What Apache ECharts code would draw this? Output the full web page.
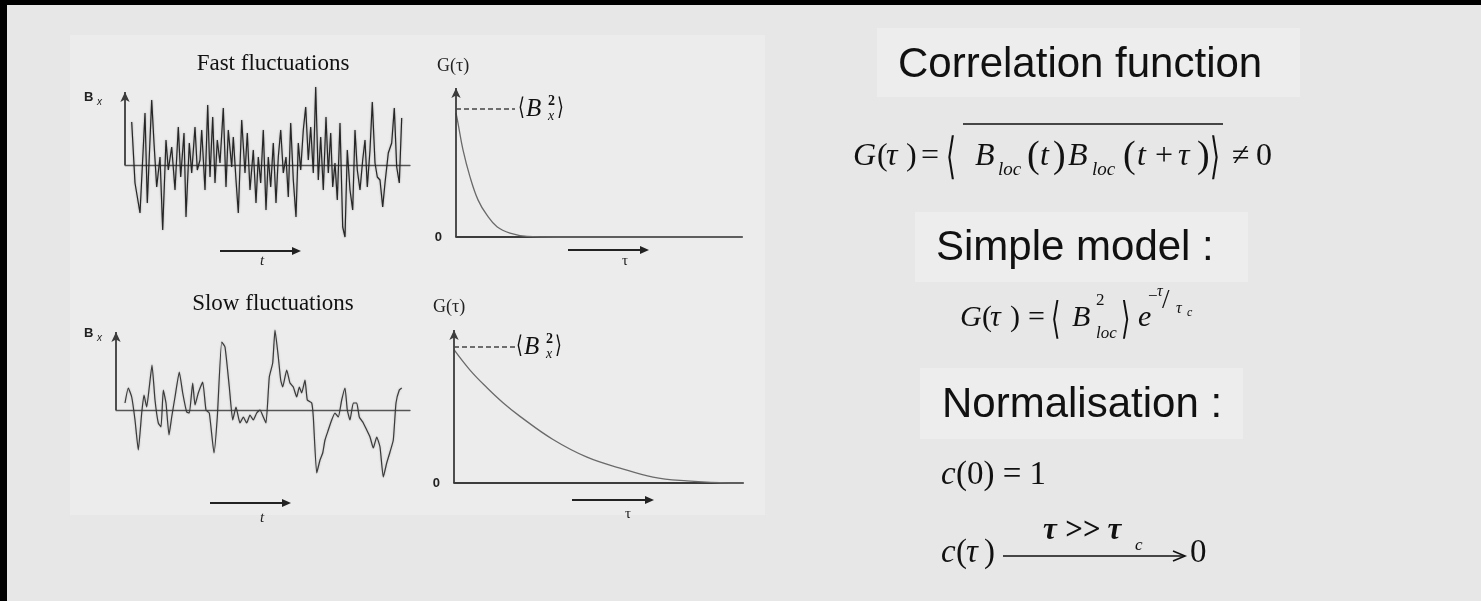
<!DOCTYPE html>
<html>
<head>
<meta charset="utf-8">
<script src="https://cdn.jsdelivr.net/npm/echarts@6/dist/echarts.min.js"></script>
<style>
html,body{margin:0;padding:0;background:#000;}
#c{width:1481px;height:601px;}
</style>
</head>
<body>
<div id="c"></div>
<script>
// Fast fluctuations: time (arbitrary units) and field B_x
const fastT = [6.7,10,15,20,22.3,26.7,29,31.7,35,37.7,41,43.3,46.7,50,53.3,55.7,59,61,64.3,66.7,70,72.3,75,76.7,80,82.7,85,87.7,90,92.3,95,98.3,101,103.3,106.7,108.3,111,113.3,116.7,120,122.3,125,128.3,131,133.3,135.7,138.3,141,143.3,145.7,148.3,151,153.3,155.7,158.3,161,163.3,165.7,168.3,171,173.3,175.7,178.3,180.7,183.3,185.7,188.3,190.7,193.3,195.7,198.3,201,203.3,205.7,207.7,210,212.3,215,217.7,220,222.3,225,227.7,230,232.3,235,237.7,240,242.3,245,247.3,250,252.3,255,257.7,260,263.3,266.7,269.3,271.7,274.3,276.7];
const fastB = [43,-18,-48,52,-38,65,22,-22,8,-65,25,-5,18,-25,38,-12,32,-52,22,-8,38,-5,5,35,-25,60,-12,48,-18,25,2,57,-22,35,-2,28,-15,-48,45,-8,32,-25,15,-38,8,-18,35,-45,8,-22,22,-38,8,35,-8,8,-32,42,-15,-52,22,-5,35,58,5,38,-8,78,-15,28,-25,48,-8,32,-22,2,-35,42,-62,-72,15,-25,-45,35,-5,-25,5,25,-22,15,63,2,-12,-15,-42,-18,12,22,57,-2,-18,47];

// Slow fluctuations
const slowT = [9,12.3,15.7,19,22.3,25.7,28,30.7,33.3,36,39,42.3,45,47.3,50,53,55.7,59,63.3,66.7,70.7,73.3,76.7,79,82.3,86.7,90,93.3,98,101.3,105.7,109,113.3,116.7,120,124,127.3,130.7,134,137.3,140.7,144,147.3,150,153.3,156.7,159,162.3,164.7,166.7,170.7,174,177.3,180.7,183.3,185.7,189,191.3,195.7,197.3,200.7,204,206.7,209,212.3,215.7,219,222.3,225.7,229,231.3,234,237.3,240.7,243.3,247.3,250.7,254,257.3,260.7,264,267.3,270.7,274,277.3,280,283.3,285.7];
const slowB = [7,22,13,-10,-40,-3,15,3,23,45,10,-13,-17,20,7,-25,-7,13,38,17,-2,-3,27,5,17,28,0,-3,-43,-7,68,63,23,-10,3,-13,-7,-13,-5,-10,-3,0,-7,-13,33,47,80,53,30,23,40,27,23,13,23,17,30,10,7,-7,-63,-50,-43,-30,-20,-10,-3,-7,10,22,0,-10,7,7,-7,-13,-20,-27,-38,-27,-37,-67,-53,-42,-30,7,20,22];

// Correlation functions G(tau), normalised to <B_x^2> = 1
const gFastTau = [0,2,7,14,22,31,41,54,71,100,286];
const gFastVal = [0.97,0.89,0.68,0.47,0.29,0.17,0.08,0.03,0.005,0,0];
const gSlowTau = [0,16,33,49,66,99,133,166,199,233,266,289];
const gSlowVal = [0.98,0.83,0.70,0.59,0.49,0.32,0.19,0.11,0.044,0.015,0.002,0];

const zip = (a, b) => a.slice(0, Math.min(a.length, b.length)).map((v, i) => [v, b[i]]);

const SERIF = '"Liberation Serif","Times New Roman",serif';
const SANS = '"Liberation Sans",Arial,sans-serif';
const BRK = '"DejaVu Serif","Liberation Serif",serif';
const INK = '#111';

// text piece placed by its alphabetic baseline
function t(x, base, s, size, o) {
  o = o || {};
  const fam = o.fam || SERIF;
  const font = (o.it ? 'italic ' : '') + (o.b ? 'bold ' : '') + size + 'px ' + fam;
  return {
    type: 'text', x: x, y: base - size * 0.34, silent: true,
    style: { text: s, font: font, fill: o.fill || INK, align: o.align || 'left', verticalAlign: 'middle' }
  };
}
// tall bracket centred on cy
function br(x, cy, s, size, sy, sx) {
  return {
    type: 'text', x: x, y: cy, scaleX: sx || 0.8, scaleY: sy, silent: true,
    style: { text: s, font: size + 'px ' + BRK, fill: INK, align: 'left', verticalAlign: 'middle' }
  };
}
function hline(x1, x2, y, w, c) {
  return { type: 'line', silent: true, shape: { x1: x1, y1: y, x2: x2, y2: y }, style: { stroke: c || INK, lineWidth: w || 1.5 } };
}
function arrow(x1, x2, y, c, w, hl, hw) {
  c = c || '#222'; w = w || 2; hl = hl || 9; hw = hw || 4;
  return [
    { type: 'line', silent: true, shape: { x1: x1, y1: y, x2: x2 - hl + 1, y2: y }, style: { stroke: c, lineWidth: w } },
    { type: 'polygon', silent: true, shape: { points: [[x2 - hl, y - hw], [x2, y], [x2 - hl, y + hw]] }, style: { fill: c } }
  ];
}
// open arrow head, as in a math "longrightarrow"
function mathArrow(x1, x2, y, w) {
  return [
    { type: 'line', silent: true, shape: { x1: x1, y1: y, x2: x2, y2: y }, style: { stroke: INK, lineWidth: w } },
    { type: 'polyline', silent: true, shape: { points: [[x2 - 12, y - 5], [x2, y], [x2 - 12, y + 5]] }, style: { stroke: INK, lineWidth: w, fill: null } }
  ];
}
function rect(x, y, w, h, c) {
  return { type: 'rect', silent: true, z: -10, shape: { x: x, y: y, width: w, height: h }, style: { fill: c } };
}

const AX = '#3c3c3c';

function yArrow(top) {
  return [{ coord: [0, 0], symbol: 'none', lineStyle: { color: AX, width: 1.8, type: 'solid' } },
          { coord: [0, top], symbol: 'arrow', symbolSize: [7, 10] }];
}
function dashed(x2) {
  return [{ coord: [0, 1], symbol: 'none', lineStyle: { color: '#444', width: 1.6, type: [5, 3] } },
          { coord: [x2, 1], symbol: 'none' }];
}

const grids = [
  { left: 125, top: 85, width: 285, height: 160 },
  { left: 116, top: 330, width: 294, height: 160 },
  { left: 456, top: 83.4, width: 286, height: 153.6 },
  { left: 454, top: 319.8, width: 289, height: 163.2 }
];

function xAx(i, max) {
  return {
    type: 'value', gridIndex: i, min: 0, max: max,
    axisLine: { show: true, onZero: true, lineStyle: { color: i < 2 ? '#555' : AX, width: i < 2 ? 1.3 : 1.8 } },
    axisTick: { show: false }, axisLabel: { show: false }, splitLine: { show: false }
  };
}
function yAx(i, min, max, zeroLabel) {
  return {
    type: 'value', gridIndex: i, min: min, max: max,
    axisLine: { show: false }, axisTick: { show: false }, splitLine: { show: false },
    axisLabel: zeroLabel ? {
      show: true, margin: 14, color: '#222', fontFamily: SANS, fontWeight: 'bold', fontSize: 13,
      formatter: v => (v === 0 ? '0' : '')
    } : { show: false }
  };
}

const graphic = [
  rect(7, 5, 1474, 596, '#e7e7e7'),
  rect(70, 35, 695, 480, '#ececec'),
  rect(877, 28, 423, 69, '#ededed'),
  rect(915, 212, 333, 70, '#ededed'),
  rect(920, 368, 323, 71, '#ededed'),

  // panel titles
  t(273, 72, 'Fast fluctuations', 23, { align: 'center' }),
  t(273, 312, 'Slow fluctuations', 23, { align: 'center' }),

  // B_x labels
  t(84, 102, 'B', 13, { fam: SANS, b: true, fill: '#222' }),
  t(97, 106, 'x', 10, { fam: SANS, it: true, fill: '#222' }),
  t(84, 338, 'B', 13, { fam: SANS, b: true, fill: '#222' }),
  t(97, 342, 'x', 10, { fam: SANS, it: true, fill: '#222' }),

  // G(τ) labels
  t(437, 72, 'G(τ)', 18, { fill: '#222' }),
  t(433, 313, 'G(τ)', 18, { fill: '#222' }),

  // <B_x^2> labels
  br(518, 109, '⟨', 22, 1.1, 0.8),
  t(526, 118, 'B', 25, { it: true }),
  t(548, 106, '2', 14, { b: true }),
  t(548, 121, 'x', 14, { it: true }),
  br(557, 109, '⟩', 22, 1.1, 0.8),

  br(516, 347, '⟨', 22, 1.1, 0.8),
  t(524, 356, 'B', 25, { it: true }),
  t(546, 344, '2', 14, { b: true }),
  t(546, 359, 'x', 14, { it: true }),
  br(555, 347, '⟩', 22, 1.1, 0.8),

  // time arrows
  ...arrow(220, 301, 251),
  t(260, 266, 't', 15, { it: true, fill: '#222' }),
  ...arrow(568, 649, 250),
  t(622, 266, 'τ', 15, { fill: '#222' }),
  ...arrow(210, 291, 503),
  t(260, 523, 't', 15, { it: true, fill: '#222' }),
  ...arrow(572, 654, 500),
  t(625, 519, 'τ', 15, { fill: '#222' }),

  // right column headings
  t(898, 80, 'Correlation function', 42, { fam: SANS }),
  t(936, 263, 'Simple model :', 42, { fam: SANS }),
  t(942, 420, 'Normalisation :', 42, { fam: SANS }),

  // G(τ) = <B_loc(t) B_loc(t+τ)> ≠ 0
  t(853, 167, 'G', 32, { it: true }),
  t(877, 167, '(', 32),
  t(886, 167, 'τ', 32, { it: true }),
  t(906, 167, ')', 32),
  t(921, 167, '=', 32),
  br(946, 160, '⟨', 32, 1.55, 0.8),
  t(975, 167, 'B', 32, { it: true }),
  t(998, 176, 'loc', 19, { it: true }),
  t(1027, 170, '(', 38),
  t(1040, 167, 't', 32, { it: true }),
  t(1053, 170, ')', 38),
  t(1068, 167, 'B', 32, { it: true }),
  t(1092, 176, 'loc', 19, { it: true }),
  t(1123, 170, '(', 38),
  t(1137, 167, 't', 32, { it: true }),
  t(1155, 167, '+', 32),
  t(1178, 167, 'τ', 32, { it: true }),
  t(1197, 170, ')', 38),
  br(1210, 160, '⟩', 32, 1.55, 0.8),
  t(1232, 167, '≠', 32),
  t(1256, 167, '0', 32),
  hline(963, 1223, 124, 1.6),

  // G(τ) = <B^2_loc> e^{-τ/τc}
  t(960, 328, 'G', 30, { it: true }),
  t(982, 328, '(', 30),
  t(990, 328, 'τ', 30, { it: true }),
  t(1010, 328, ')', 30),
  t(1028, 328, '=', 30),
  br(1051, 322, '⟨', 30, 1.45, 0.8),
  t(1072, 328, 'B', 30, { it: true }),
  t(1096, 306, '2', 17),
  t(1096, 339, 'loc', 17, { it: true }),
  br(1121, 322, '⟩', 30, 1.45, 0.8),
  t(1138, 328, 'e', 30, { it: true }),
  t(1148, 302, '−', 17),
  t(1157, 297, 'τ', 16, { it: true }),
  t(1162, 310, '/', 27),
  t(1176, 314, 'τ', 16, { it: true }),
  t(1187, 317, 'c', 12, { it: true }),

  // c(0) = 1
  t(941, 487, 'c', 33, { it: true }),
  t(956, 487, '(0) = 1', 33),

  // c(τ) --τ >> τc--> 0
  t(941, 565, 'c', 33, { it: true }),
  t(956, 565, '(', 33),
  t(966, 565, 'τ', 33, { it: true }),
  t(984, 565, ')', 33),
  ...mathArrow(1003, 1185, 556, 1.6),
  t(1190, 565, '0', 33),
  t(1043, 542, 'τ >> τ', 31, { b: true, it: true }),
  t(1135, 551, 'c', 17, { it: true })
];

// scanned-look strokes: dark core with a soft grey halo
const sigLine = { color: '#262626', width: 1.2, shadowColor: 'rgba(0,0,0,0.35)', shadowBlur: 2 };
const slowLine = { color: '#3a3a3a', width: 1.2, shadowColor: 'rgba(0,0,0,0.25)', shadowBlur: 2 };
const curveLine = { color: '#6a6a6a', width: 1.3 };

const option = {
  backgroundColor: '#000',
  animation: false,
  grid: grids,
  xAxis: [xAx(0, 285), xAx(1, 294), xAx(2, 286), xAx(3, 289)],
  yAxis: [yAx(0, -80, 80), yAx(1, -80, 80), yAx(2, 0, 1.2, true), yAx(3, 0, 1.2, true)],
  graphic: graphic,
  series: [
    {
      type: 'line', xAxisIndex: 0, yAxisIndex: 0, data: zip(fastT, fastB),
      symbol: 'none', lineStyle: sigLine, clip: false, z: 3,
      markLine: { silent: true, animation: false, label: { show: false }, data: [yArrow(73)] }
    },
    {
      type: 'line', xAxisIndex: 1, yAxisIndex: 1, data: zip(slowT, slowB),
      symbol: 'none', smooth: 0.15, lineStyle: slowLine, clip: false, z: 3,
      markLine: { silent: true, animation: false, label: { show: false }, data: [yArrow(78)] }
    },
    {
      type: 'line', xAxisIndex: 2, yAxisIndex: 2, data: zip(gFastTau, gFastVal),
      symbol: 'none', smooth: 0.4, lineStyle: curveLine, clip: false, z: 3,
      markLine: { silent: true, animation: false, label: { show: false }, data: [yArrow(1.164), dashed(59)] }
    },
    {
      type: 'line', xAxisIndex: 3, yAxisIndex: 3, data: zip(gSlowTau, gSlowVal),
      symbol: 'none', smooth: 0.4, lineStyle: curveLine, clip: false, z: 3,
      markLine: { silent: true, animation: false, label: { show: false }, data: [yArrow(1.125), dashed(63)] }
    }
  ]
};

const chart = echarts.init(document.getElementById('c'), null, { renderer: 'canvas' });
chart.setOption(option);
</script>
</body>
</html>
